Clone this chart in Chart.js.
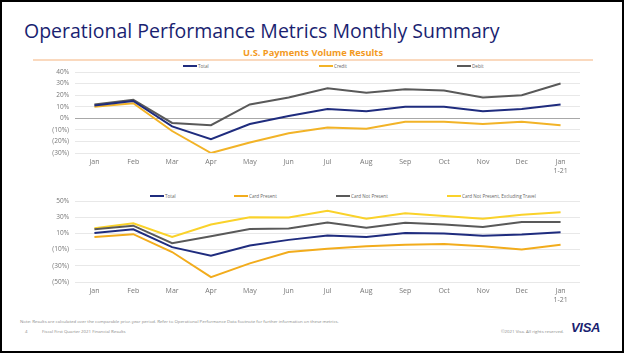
<!DOCTYPE html>
<html>
<head>
<meta charset="utf-8">
<script src="https://cdn.jsdelivr.net/npm/chart.js@4.4.0/dist/chart.umd.min.js"></script>
<style>
  html, body { margin: 0; padding: 0; background: #fff; }
  #page { position: relative; width: 626px; height: 353px; overflow: hidden; font-family: "Open Sans", "Noto Sans", sans-serif; }
  #frame { position: absolute; left: 0; top: 0; width: 624px; height: 353px; box-sizing: border-box; border: 2px solid #000; pointer-events: none; }
  .abs { position: absolute; white-space: nowrap; }
  #title { left: 24px; top: 18px; font-size: 19.5px; color: #1a1f71; line-height: 25px; }
  #subtitle { left: 0; width: 626px; text-align: center; top: 47px; font-size: 9.3px; font-weight: 700; color: #f39a1e; line-height: 12px; }
  #rule { left: 33px; top: 59px; width: 560px; height: 1.5px; background: #fad9be; }
  .leg { position: absolute; font-size: 4.6px; color: #666; line-height: 6px; white-space: nowrap; }
  .leg i { display: inline-block; width: 14px; height: 2px; vertical-align: middle; margin-right: 1px; position: relative; top: -0.5px; }
  .wrap { position: absolute; left: 0; width: 626px; }
  .foot { font-size: 4.35px; color: #8a8a8a; line-height: 6px; }
  #visa { left: 571px; top: 321px; font-family: "Liberation Sans", Arial, sans-serif; font-weight: 700; font-style: italic; font-size: 13px; color: #1a1f71; letter-spacing: -0.3px; line-height: 14px; }
</style>
</head>
<body>
<div id="page">
  <div id="title" class="abs">Operational Performance Metrics Monthly Summary</div>
  <div id="subtitle" class="abs">U.S. Payments Volume Results</div>
  <div id="rule" class="abs"></div>

  <div class="leg" style="left:183px; top:63px;"><i style="background:#1f2c7e"></i>Total</div>
  <div class="leg" style="left:319px; top:63px;"><i style="background:#f2b327"></i>Credit</div>
  <div class="leg" style="left:457px; top:63px;"><i style="background:#595959"></i>Debit</div>

  <div class="wrap" style="top:62px; height:119px;"><canvas id="c1" width="626" height="119"></canvas></div>

  <div class="leg" style="left:150px; top:193px;"><i style="background:#1f2c7e"></i>Total</div>
  <div class="leg" style="left:234px; top:193px;"><i style="background:#f2ac1c"></i>Card Present</div>
  <div class="leg" style="left:336px; top:193px;"><i style="background:#595959"></i>Card Not Present</div>
  <div class="leg" style="left:447px; top:193px;"><i style="background:#fad22a"></i>Card Not Present, Excluding Travel</div>

  <div class="wrap" style="top:190px; height:120px;"><canvas id="c2" width="626" height="120"></canvas></div>

  <div class="abs foot" style="left:20px; top:318px;">Note: Results are calculated over the comparable prior-year period. Refer to Operational Performance Data footnote for further information on these metrics.</div>
  <div class="abs foot" style="left:25px; top:328px;">4</div>
  <div class="abs foot" style="left:42px; top:328px;">Fiscal First Quarter 2021 Financial Results</div>
  <div class="abs foot" style="left:501px; top:328px;">©2021 Visa. All rights reserved.</div>
  <div id="visa" class="abs">VISA</div>
  <div id="frame"></div>
</div>
<script>
const months = ['Jan','Feb','Mar','Apr','May','Jun','Jul','Aug','Sep','Oct','Nov','Dec',['Jan','1-21']];

// U.S. Payments Volume (top chart), % change
const usTotal  = [11, 15, -7, -18, -5, 2, 8, 6, 10, 10, 6, 8, 12];
const usCredit = [10, 13, -11, -30, -21, -13, -8, -9, -3, -3, -5, -3, -6];
const usDebit  = [12, 16, -4, -6, 12, 18, 26, 22, 25, 24, 18, 20, 30];

// Bottom chart, % change
const cpTotal      = [10.5, 15, -7, -17.5, -5, 2, 7.5, 5.5, 10.5, 10, 7, 8.5, 11.5];
const cardPresent  = [5.5, 9, -13, -44, -27, -13, -9, -6, -4, -3, -6, -10, -4];
const cardNotPres  = [15, 19.5, -2, 6.5, 15.5, 16, 23.5, 17, 23, 21, 18, 24, 24];
const cnpExTravel  = [16.5, 22.5, 5.5, 21, 30, 29.5, 38, 28, 35, 31.5, 28, 33, 36];

const topTicks = [40, 30, 20, 10, 0, -10, -20, -30];
const bottomLabelTicks = [50, 30, 10, -10, -30, -50];

function fmtPct(v) {
  if (v < 0) return '(' + Math.abs(v) + '%)';
  return v + '%';
}
const FONT = "'Open Sans', 'Noto Sans', sans-serif";

function ds(label, data, color) {
  return { label, data, borderColor: color, backgroundColor: color, borderWidth: 2, pointRadius: 0, tension: 0, fill: false };
}

function makeChart(id, datasets, yMin, yMax, labelFilter, zeroColor, zeroWidth, padTop) {
  return new Chart(document.getElementById(id), {
    type: 'line',
    data: { labels: months, datasets },
    options: {
      responsive: false,
      animation: false,
      devicePixelRatio: 1,
      layout: { padding: { top: padTop, right: 46, left: 0, bottom: 0 } },
      plugins: { legend: { display: false }, tooltip: { enabled: false } },
      scales: {
        x: {
          offset: true,
          grid: { display: false, drawTicks: false },
          border: { display: false },
          ticks: { color: '#777', font: { family: FONT, size: 7 }, padding: 5, maxRotation: 0, autoSkip: false },
          afterFit: (s) => { s.height = 28; }
        },
        y: {
          min: yMin, max: yMax,
          border: { display: false },
          grid: {
            drawTicks: false,
            color: (c) => c.tick && c.tick.value === 0 ? zeroColor : '#e8e8e8',
            lineWidth: (c) => c.tick && c.tick.value === 0 ? zeroWidth : 1
          },
          ticks: {
            stepSize: 10,
            color: '#777',
            font: { family: FONT, size: 6.5 },
            padding: 6,
            callback: (v) => labelFilter.includes(v) ? fmtPct(v) : ''
          },
          afterFit: (s) => { s.width = 75; }
        }
      }
    }
  });
}

makeChart('c1', [
  ds('Total', usTotal, '#1f2c7e'),
  ds('Credit', usCredit, '#f2b327'),
  ds('Debit', usDebit, '#595959')
], -30, 40, topTicks, '#a8a8a8', 1, 10);

makeChart('c2', [
  ds('Total', cpTotal, '#1f2c7e'),
  ds('Card Present', cardPresent, '#f2ac1c'),
  ds('Card Not Present', cardNotPres, '#595959'),
  ds('Card Not Present, Excluding Travel', cnpExTravel, '#fad22a')
], -50, 50, bottomLabelTicks, '#c4c4c4', 2.5, 11);
</script>
</body>
</html>
